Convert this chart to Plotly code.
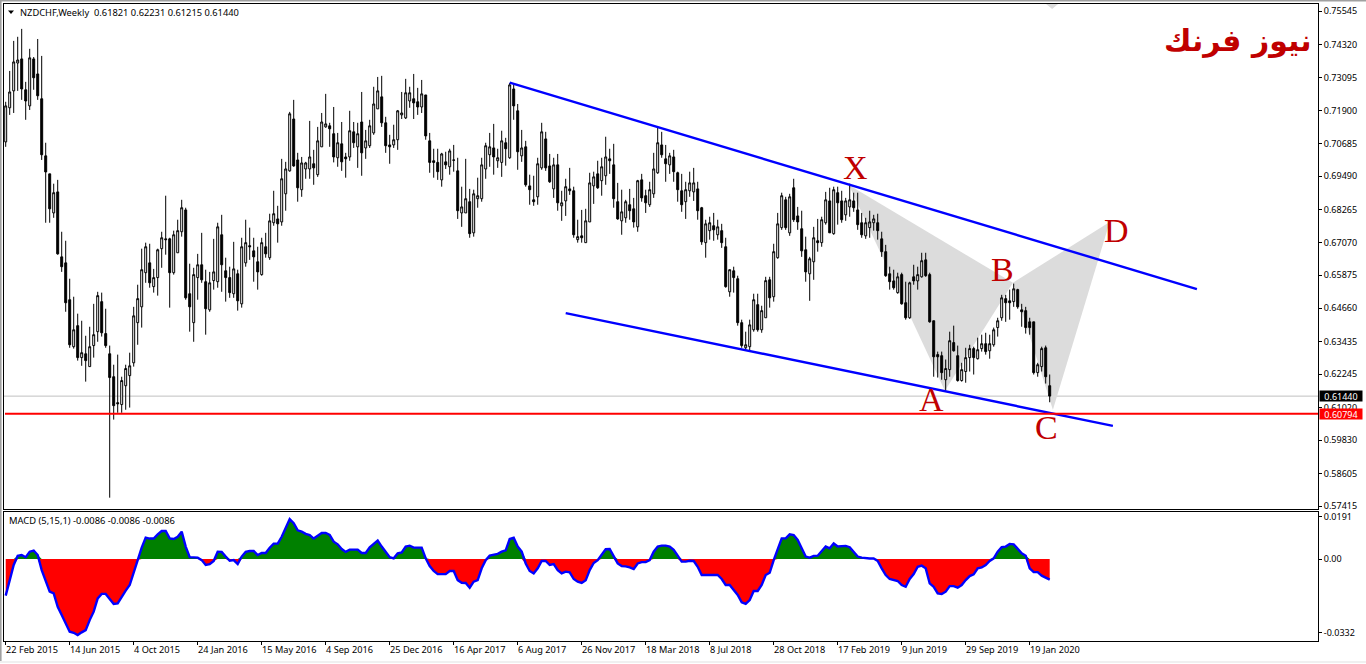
import plotly.graph_objects as go

W, H = 1366, 664

opens = [
 .7075,.7200,.7262,.7364,.7379,.7266,.7207,.7379,.7324,.7233,
 .7024,.6958,.6815,.6892,.6654,.6632,.6497,.6325,.6402,.6285,
 .6299,.6252,.6329,.6380,.6490,.6373,.6299,.6215,.6120,.6113,
 .6182,.6219,.6266,.6413,.6471,.6596,.6632,.6545,.6578,.6684,
 .6720,.6720,.6596,.6669,.6746,.6826,.6519,.6413,.6578,.6625,
 .6563,.6460,.6567,.6563,.6735,.6603,.6578,.6519,.6592,.6482,
 .6632,.6695,.6676,.6636,.6589,.6691,.6651,.6779,.6793,.6782,
 .6885,.6969,.7159,.7009,.6900,.6976,.6976,.6995,.6955,.7057,
 .7130,.7134,.7105,.7017,.7068,.7020,.7020,.7112,.7057,.7148,
 .7053,.7061,.7108,.7196,.7240,.7145,.7064,.7064,.7083,.7174,
 .7163,.7225,.7233,.7222,.7203,.7247,.7079,.7006,.7000,.6936,
 .7002,.6984,.7009,.6969,.6815,.6815,.6856,.6742,.6867,.6867,
 .6976,.7028,.7053,.7006,.7000,.7072,.7017,.7269,.7189,.7024,
 .7057,.6914,.6863,.6874,.6980,.7086,.6987,.6903,.6991,.6841,
 .6859,.6903,.6896,.6717,.6731,.6706,.6782,.6914,.6958,.6933,
 .6951,.7013,.6991,.6856,.6786,.6797,.6845,.6830,.6764,.6936,
 .6878,.6845,.6885,.6962,.7064,.7013,.6991,.7020,.6962,.6896,
 .6856,.6896,.6892,.6903,.6834,.6706,.6750,.6768,.6735,.6750,
 .6691,.6526,.6603,.6574,.6413,.6321,.6325,.6387,.6479,.6387,
 .6431,.6570,.6508,.6651,.6761,.6863,.6742,.6907,.6804,.6757,
 .6680,.6592,.6636,.6713,.6706,.6779,.6859,.6739,.6889,.6859,
 .6808,.6837,.6859,.6826,.6779,.6731,.6761,.6779,.6779,.6720,
 .6673,.6592,.6566,.6523,.6589,.6486,.6431,.6581,.6566,.6581,
 .6643,.6589,.6420,.6296,.6292,.6204,.6241,.6340,.6292,.6201,
 .6234,.6285,.6318,.6281,.6318,.6336,.6310,.6332,.6395,.6431,
 .6501,.6493,.6490,.6534,.6460,.6457,.6416,.6416,.6230,.6252,
 .6321,.61821]
highs = [
 .7222,.7335,.7445,.7460,.7489,.7295,.7416,.7386,.7452,.7390,
 .7072,.6958,.6922,.6936,.6746,.6713,.6574,.6508,.6446,.6420,
 .6365,.6398,.6482,.6526,.6523,.6464,.6329,.6259,.6296,.6215,
 .6259,.6303,.6471,.6552,.6684,.6706,.6702,.6610,.6684,.6746,
 .6878,.6724,.6750,.6790,.6863,.6834,.6629,.6614,.6665,.6742,
 .6607,.6599,.6720,.6779,.6808,.6651,.6618,.6709,.6607,.6724,
 .6790,.6761,.6724,.6691,.6724,.6742,.6812,.6896,.6841,.7013,
 .7002,.7185,.7229,.7035,.7020,.7002,.7152,.7046,.7130,.7181,
 .7251,.7145,.7203,.7108,.7148,.7035,.7189,.7148,.7145,.7258,
 .7119,.7156,.7277,.7313,.7317,.7167,.7101,.7138,.7192,.7258,
 .7306,.7277,.7324,.7273,.7302,.7247,.7108,.7050,.7050,.7035,
 .7039,.7050,.7064,.7017,.6911,.7013,.6903,.6900,.6944,.7017,
 .7072,.7108,.7141,.7050,.7116,.7090,.7291,.7284,.7214,.7119,
 .7079,.6955,.6951,.7017,.7145,.7112,.7031,.7017,.7031,.6896,
 .6940,.6980,.6911,.6790,.6826,.6830,.6962,.6966,.7006,.7017,
 .7094,.7050,.7068,.6925,.6900,.6863,.6903,.6870,.6936,.6958,
 .6900,.6929,.7035,.7127,.7112,.7064,.7035,.7046,.6966,.6958,
 .6929,.6966,.6980,.6929,.6837,.6790,.6801,.6815,.6790,.6775,
 .6724,.6607,.6618,.6585,.6424,.6380,.6424,.6519,.6519,.6475,
 .6581,.6581,.6702,.6815,.6889,.6874,.6885,.6940,.6837,.6823,
 .6728,.6654,.6764,.6793,.6801,.6892,.6907,.6911,.6911,.6896,
 .6870,.6922,.6889,.6889,.6815,.6797,.6823,.6808,.6812,.6746,
 .6698,.6618,.6607,.6596,.6596,.6563,.6563,.6625,.6618,.6669,
 .6669,.6596,.6420,.6307,.6307,.6278,.6380,.6402,.6329,.6266,
 .6321,.6332,.6325,.6358,.6369,.6376,.6369,.6395,.6431,.6515,
 .6515,.6534,.6556,.6537,.6482,.6471,.6431,.6416,.6266,.6325,
 .6329,.62231]
lows = [
 .7057,.7174,.7181,.7262,.7229,.7156,.7192,.7266,.7229,.7009,
 .6779,.6779,.6797,.6662,.6599,.6453,.6321,.6318,.6274,.6255,
 .6197,.6252,.6285,.6343,.6362,.6321,.5772,.6058,.6083,.6083,
 .6094,.6102,.6252,.6332,.6395,.6559,.6541,.6523,.6512,.6614,
 .6662,.6468,.6589,.6669,.6728,.6497,.6380,.6343,.6497,.6559,
 .6369,.6453,.6534,.6541,.6526,.6490,.6504,.6504,.6457,.6468,
 .6618,.6643,.6563,.6534,.6585,.6651,.6643,.6768,.6706,.6768,
 .6823,.6966,.6984,.6856,.6874,.6940,.6940,.6918,.6947,.7057,
 .7127,.7057,.7000,.6984,.6969,.6944,.7006,.7053,.6980,.6951,
 .7013,.7053,.7101,.7196,.7130,.7035,.6995,.7053,.7046,.7159,
 .7159,.7200,.7159,.7174,.7181,.7083,.6962,.6944,.6936,.6911,
 .6976,.6955,.6966,.6793,.6764,.6815,.6724,.6728,.6834,.6856,
 .6940,.6984,.6955,.6980,.6947,.6988,.7013,.7156,.6973,.7002,
 .6911,.6845,.6841,.6845,.6973,.6969,.6925,.6870,.6823,.6786,
 .6804,.6881,.6724,.6706,.6706,.6706,.6782,.6848,.6903,.6878,
 .6918,.6958,.6834,.6790,.6735,.6779,.6790,.6761,.6746,.6856,
 .6815,.6837,.6870,.6958,.7017,.6929,.6958,.6929,.6856,.6819,
 .6793,.6874,.6859,.6790,.6698,.6651,.6717,.6713,.6717,.6687,
 .6541,.6508,.6523,.6402,.6321,.6314,.6307,.6380,.6380,.6376,
 .6431,.6468,.6490,.6647,.6753,.6753,.6731,.6782,.6753,.6654,
 .6563,.6493,.6570,.6673,.6691,.6772,.6742,.6735,.6772,.6779,
 .6786,.6801,.6819,.6753,.6724,.6720,.6724,.6750,.6717,.6654,
 .6581,.6534,.6534,.6519,.6479,.6424,.6427,.6552,.6534,.6578,
 .6581,.6413,.6215,.6212,.6204,.6164,.6215,.6307,.6197,.6197,
 .6193,.6234,.6223,.6278,.6307,.6296,.6281,.6325,.6362,.6420,
 .6416,.6424,.6471,.6464,.6398,.6373,.6369,.6223,.6215,.6234,
 .6190,.61215]
closes = [
 .7207,.7258,.7368,.7375,.7269,.7225,.7383,.7310,.7244,.7028,
 .6965,.6830,.6889,.6665,.6618,.6486,.6332,.6387,.6285,.6303,
 .6274,.6325,.6369,.6512,.6376,.6329,.6212,.6109,.6116,.6201,
 .6245,.6255,.6438,.6501,.6607,.6691,.6559,.6578,.6680,.6724,
 .6717,.6596,.6735,.6750,.6834,.6504,.6471,.6589,.6625,.6570,
 .6464,.6559,.6599,.6764,.6625,.6578,.6523,.6610,.6493,.6691,
 .6706,.6691,.6654,.6599,.6706,.6665,.6786,.6812,.6775,.6940,
 .6976,.7178,.6987,.6907,.6998,.6998,.7020,.6980,.7079,.7148,
 .7141,.7123,.7020,.7072,.7002,.7013,.7116,.7072,.7105,.7035,
 .7079,.7134,.7214,.7262,.7145,.7061,.7057,.7083,.7189,.7181,
 .7255,.7255,.7218,.7203,.7251,.7097,.7000,.7000,.6966,.7031,
 .6991,.7042,.7008,.6823,.6837,.6867,.6739,.6885,.6878,.6991,
 .7061,.7057,.7020,.7017,.7079,.7050,.7284,.7207,.7039,.7053,
 .6918,.6900,.6856,.6995,.7112,.6980,.6929,.6991,.6852,.6852,
 .6911,.6896,.6735,.6728,.6724,.6786,.6925,.6947,.6907,.6984,
 .7020,.7006,.6867,.6793,.6819,.6856,.6823,.6782,.6933,.6870,
 .6852,.6900,.6976,.7072,.7028,.6995,.7024,.6966,.6900,.6845,
 .6900,.6925,.6925,.6823,.6709,.6775,.6779,.6753,.6764,.6706,
 .6545,.6607,.6578,.6413,.6329,.6332,.6405,.6497,.6387,.6457,
 .6567,.6504,.6673,.6775,.6878,.6761,.6874,.6790,.6782,.6676,
 .6599,.6647,.6724,.6706,.6790,.6863,.6742,.6900,.6852,.6790,
 .6859,.6863,.6834,.6772,.6735,.6779,.6782,.6793,.6750,.6673,
 .6585,.6563,.6541,.6581,.6482,.6431,.6559,.6566,.6589,.6640,
 .6585,.6416,.6288,.6288,.6230,.6245,.6347,.6310,.6201,.6241,
 .6285,.6318,.6285,.6314,.6336,.6307,.6336,.6387,.6420,.6504,
 .6486,.6486,.6537,.6471,.6453,.6395,.6395,.6230,.6259,.6318,
 .6215,.61440]
macd = [
 -.0165,-.0102,-.0027,.0014,.0018,.0008,.0033,.0038,.0018,-.0050,
 -.0095,-.0147,-.0155,-.0215,-.0252,-.0290,-.0327,-.0332,-.0342,-.0330,
 -.0320,-.0275,-.0237,-.0177,-.0157,-.0157,-.0177,-.0202,-.0200,-.0170,
 -.0142,-.0117,-.0057,-.0005,.0051,.0096,.0092,.0092,.0111,.0126,
 .0126,.0093,.0090,.0100,.0123,.0056,.0008,.0006,.0006,-.0005,
 -.0027,-.0023,-.0009,.0033,.0032,.0011,-.0008,-.0005,-.0023,.0011,
 .0032,.0036,.0036,.0018,.0027,.0027,.0051,.0069,.0069,.0100,
 .0138,.0180,.0161,.0129,.0123,.0113,.0108,.0092,.0105,.0117,
 .0117,.0108,.0078,.0066,.0045,.0032,.0042,.0042,.0042,.0027,
 .0027,.0053,.0066,.0083,.0056,.0029,.0008,.0003,.0026,.0030,
 .0056,.0060,.0051,.0051,.0051,.0003,-.0032,-.0054,-.0068,-.0068,
 -.0068,-.0054,-.0054,-.0095,-.0107,-.0108,-.0129,-.0102,-.0095,-.0042,
 -.0005,.0015,.0018,.0023,.0033,.0039,.0090,.0096,.0056,.0033,
 -.0020,-.0054,-.0065,-.0042,-.0009,-.0009,-.0027,-.0023,-.0050,-.0065,
 -.0057,-.0060,-.0090,-.0102,-.0108,-.0096,-.0050,-.0018,-.0005,.0018,
 .0044,.0045,.0011,-.0020,-.0032,-.0033,-.0038,-.0045,-.0020,-.0014,
 -.0014,-.0005,.0033,.0056,.0060,.0060,.0056,.0041,.0015,-.0012,
 -.0012,-.0008,-.0009,-.0035,-.0072,-.0072,-.0072,-.0072,-.0072,-.0090,
 -.0117,-.0117,-.0140,-.0162,-.0195,-.0202,-.0185,-.0144,-.0144,-.0117,
 -.0072,-.0062,-.0005,.0041,.0093,.0093,.0111,.0108,.0086,.0048,
 .0011,.0006,.0014,.0015,.0036,.0056,.0048,.0070,.0056,.0056,
 .0059,.0053,.0033,.0011,.0006,.0003,.0002,.0002,-.0009,-.0042,
 -.0072,-.0090,-.0093,-.0099,-.0117,-.0125,-.0090,-.0068,-.0035,-.0030,
 -.0042,-.0110,-.0125,-.0155,-.0158,-.0147,-.0122,-.0122,-.0129,-.0117,
 -.0095,-.0077,-.0069,-.0042,-.0038,-.0027,-.0009,.0003,.0033,.0053,
 .0056,.0068,.0066,.0048,.0026,.0015,-.0042,-.0059,-.0059,-.0075,
 -.0085,-.0093]

date_labels = ["22 Feb 2015","14 Jun 2015","4 Oct 2015","24 Jan 2016","15 May 2016",
               "4 Sep 2016","25 Dec 2016","16 Apr 2017","6 Aug 2017","26 Nov 2017",
               "18 Mar 2018","8 Jul 2018","28 Oct 2018","17 Feb 2019","9 Jun 2019",
               "29 Sep 2019","19 Jan 2020"]
date_ticks = list(range(0, 16 * len(date_labels), 16))
price_ticks = [0.75545,0.74320,0.73095,0.71900,0.70685,0.69490,0.68265,0.67070,
               0.65875,0.64660,0.63435,0.62245,0.61020,0.59830,0.58605,0.57415]
macd_ticks = [0.0191, 0.0, -0.0332]
macd_tick_text = ["0.0191", "0.00", "-0.0332"]

upper_x, upper_y = [126, 297.8], [.7292, .6536]
lower_x, lower_y = [140, 276.8], [.6448, .6035]
xab_x, xab_y = [210.8, 234.8, 251.8], [.6917, .6164, .6559]
bcd_x, bcd_y = [251.8, 261.8, 276], [.6559, .6094, .6782]
top_x, top_y = [260.1, 261.6, 263.1], [.7580, .7562, .7580]
last_price = 0.61440
support = 0.60794
wave_names = ["X", "A", "B", "C", "D"]
wave_x = [212.5, 231.5, 249.3, 260.3, 277.8]
wave_y = [.6983, .6130, .6606, .6028, .6752]

FONT = "Noto Sans"
TXT = "#000000"
RED = "#C00000"
xr = [(4 - 5.7) / 4, (1318 - 5.7) / 4]
dom_x = [4 / W, 1318 / W]
idx = list(range(len(closes)))

def py(p):
    return 1 - p / H

fig = go.Figure()
fig.add_trace(go.Candlestick(
    x=idx, open=opens, high=highs, low=lows, close=closes, whiskerwidth=0,
    increasing=dict(line=dict(color="black", width=1), fillcolor="white"),
    decreasing=dict(line=dict(color="black", width=1), fillcolor="black")))
for xs, ys in ((upper_x, upper_y), (lower_x, lower_y)):
    fig.add_trace(go.Scatter(x=xs, y=ys, mode="lines", line=dict(color="#0000FF", width=2.4),
                             hoverinfo="skip"))
fig.add_trace(go.Scatter(x=idx, y=[max(v, 0) for v in macd], mode="none", fill="tozeroy",
                         fillcolor="#008000", xaxis="x2", yaxis="y2", hoverinfo="skip"))
fig.add_trace(go.Scatter(x=idx, y=[min(v, 0) for v in macd], mode="none", fill="tozeroy",
                         fillcolor="#FF0000", xaxis="x2", yaxis="y2", hoverinfo="skip"))
fig.add_trace(go.Scatter(x=idx, y=macd, mode="lines", line=dict(color="#0000FF", width=2.4),
                         xaxis="x2", yaxis="y2", name="MACD"))

ann = []
for lab, t in zip(date_labels, date_ticks):
    ann.append(dict(text=lab, x=t - 0.4, xref="x2", y=py(649), yref="paper", xanchor="left",
                    yanchor="middle", showarrow=False, font=dict(family=FONT, size=9.2, color=TXT)))
for n, xv, yv in zip(wave_names, wave_x, wave_y):
    ann.append(dict(text=n, x=xv, y=yv, xref="x", yref="y", showarrow=False,
                    font=dict(family="Liberation Serif", size=34, color=RED)))
ann += [
    dict(text="NZDCHF,Weekly  0.61821 0.62231 0.61215 0.61440", x=18 / W, y=py(12.5), xref="paper",
         yref="paper", xanchor="left", yanchor="middle", showarrow=False,
         font=dict(family=FONT, size=9.3, color=TXT)),
    dict(text="MACD (5,15,1) -0.0086 -0.0086 -0.0086", x=7 / W, y=py(520.5), xref="paper",
         yref="paper", xanchor="left", yanchor="middle", showarrow=False,
         font=dict(family=FONT, size=9.4, color=TXT)),
    dict(text="<b>نيوز فرنك</b>", x=1238 / W, y=py(41), xref="paper", yref="paper", xanchor="center",
         yanchor="middle", showarrow=False, font=dict(family="DejaVu Sans", size=30, color=RED)),
    dict(text="0.61440", x=1341 / W, y=last_price, xref="paper", yref="y", xanchor="center",
         yanchor="middle", width=40, height=8, bgcolor="#000000", showarrow=False,
         font=dict(family=FONT, size=9, color="white")),
    dict(text="0.60794", x=1341 / W, y=support, xref="paper", yref="y", xanchor="center",
         yanchor="middle", width=40, height=8, bgcolor="#FF0000", showarrow=False,
         font=dict(family=FONT, size=9, color="white")),
]

def band(x0, y0, x1, y1, c):
    return dict(type="rect", xref="paper", yref="paper", x0=x0 / W, x1=x1 / W, y0=py(y0), y1=py(y1),
                fillcolor=c, line=dict(width=0), layer="below")

def poly(xs, ys):
    path = "M " + " L ".join(f"{a} {b}" for a, b in zip(xs, ys)) + " Z"
    return dict(type="path", xref="x", yref="y", path=path, fillcolor="#DCDCDC",
                line=dict(width=0), layer="below")

shapes = [
    band(0, 0, W, 1.6, "#A0A0A0"),
    band(0, 0, 1.6, 661, "#A0A0A0"),
    band(0, 661, W, 663, "#F0F0F0"),
    poly(xab_x, xab_y), poly(bcd_x, bcd_y), poly(top_x, top_y),
    dict(type="line", xref="paper", yref="y", x0=dom_x[0], x1=dom_x[1], y0=last_price, y1=last_price,
         line=dict(color="#C0C0C0", width=1), layer="below"),
    dict(type="line", xref="paper", yref="y", x0=5 / W, x1=dom_x[1], y0=support, y1=support,
         line=dict(color="#FF0000", width=2), layer="above"),
    dict(type="path", xref="paper", yref="paper",
         path=f"M {8/W} {py(10.5)} L {14/W} {py(10.5)} L {11/W} {py(14)} Z",
         fillcolor="black", line=dict(width=0)),
]

axis_base = dict(showline=True, linecolor="black", linewidth=1, mirror=True, showgrid=False,
                 zeroline=False, automargin=False)
tick_font = dict(family=FONT, size=9, color=TXT)
layout = dict(
    width=W, height=H, autosize=False, margin=dict(l=0, r=0, t=0, b=0),
    paper_bgcolor="white", plot_bgcolor="white", showlegend=False, hovermode=False,
    annotations=ann, shapes=shapes,
    xaxis=dict(axis_base, domain=dom_x, range=xr, anchor="y", showticklabels=False, ticks="",
               rangeslider=dict(visible=False)),
    yaxis=dict(axis_base, domain=[py(509), py(4)], range=[.75948 - .00036626 * 509, .75948 - .00036626 * 4],
               side="right", anchor="x", tickmode="array", tickvals=price_ticks,
               ticktext=[f"{v:.5f}" for v in price_ticks], ticks="outside", ticklen=3,
               tickcolor="black", tickfont=tick_font),
    xaxis2=dict(axis_base, domain=dom_x, range=xr, anchor="y2", tickmode="array", tickvals=date_ticks,
                ticktext=[""] * len(date_ticks), ticks="outside", ticklen=3, tickcolor="black"),
    yaxis2=dict(axis_base, domain=[py(641), py(512)], range=[-(641 - 559) * .00045, (559 - 512) * .00045],
                side="right", anchor="x2", tickmode="array", tickvals=macd_ticks,
                ticktext=macd_tick_text, ticks="outside", ticklen=3, tickcolor="black",
                tickfont=tick_font),
)
fig.update_layout(**layout)
fig.write_html("out.html", config=dict(displayModeBar=False),
               post_script="document.body.style.margin='0';document.body.style.overflow='hidden';")
